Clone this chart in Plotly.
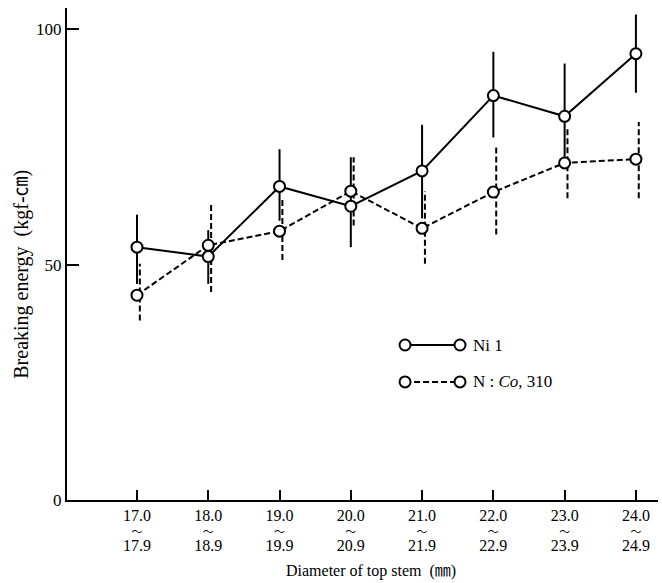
import plotly.graph_objects as go

# diameter classes of the top stem (mm)
diam_from = [17.0, 18.0, 19.0, 20.0, 21.0, 22.0, 23.0, 24.0]
diam_to = [17.9, 18.9, 19.9, 20.9, 21.9, 22.9, 23.9, 24.9]

# Ni 1 : mean breaking energy and range (kgf-cm)
ni_mean = [53.7, 51.7, 66.6, 62.4, 69.9, 85.9, 81.5, 94.8]
ni_low = [45.9, 45.9, 59.3, 53.7, 59.8, 77.0, 71.0, 86.5]
ni_high = [60.6, 57.3, 74.5, 72.8, 79.7, 95.2, 92.7, 103.1]

# N : Co, 310
nco_mean = [43.5, 54.1, 57.1, 65.6, 57.7, 65.4, 71.6, 72.4]
nco_low = [38.1, 44.2, 51.0, 58.3, 50.2, 56.4, 64.1, 64.1]
nco_high = [50.2, 63.1, 63.7, 72.8, 65.6, 74.9, 79.0, 80.3]

FONT = "Liberation Serif, Noto Sans CJK JP, serif"


def bar_xy(xs, lo, hi, shift=0.0):
    # vertical range bars as one broken line
    bx, by = [], []
    for x, a, b in zip(xs, lo, hi):
        bx += [x + shift, x + shift, None]
        by += [a, b, None]
    return bx, by


fig = go.Figure()

bx, by = bar_xy(diam_from, ni_low, ni_high)
fig.add_trace(go.Scatter(x=bx, y=by, mode="lines",
                         line=dict(color="black", width=2), showlegend=False))
bx, by = bar_xy(diam_from, nco_low, nco_high, shift=0.04)
fig.add_trace(go.Scatter(x=bx, y=by, mode="lines",
                         line=dict(color="black", width=2, dash="6px,3px"),
                         showlegend=False))

fig.add_trace(go.Scatter(x=diam_from, y=ni_mean, mode="lines",
                         line=dict(color="black", width=2), showlegend=False))
fig.add_trace(go.Scatter(x=diam_from, y=nco_mean, mode="lines",
                         line=dict(color="black", width=2, dash="6px,3px"),
                         showlegend=False))

for ys in (ni_mean, nco_mean):
    fig.add_trace(go.Scatter(x=diam_from, y=ys, mode="markers",
                             marker=dict(size=11, color="white",
                                         line=dict(color="black", width=2)),
                             showlegend=False))

ticktext = [f"<span style='font-size:16px'>{a:.1f}</span><br>"
            f"<span style='font-size:11px'>〜</span><br>"
            f"<span style='font-size:16px'>{b:.1f}</span>"
            for a, b in zip(diam_from, diam_to)]

fig.update_xaxes(range=[16.018, 24.31], tickvals=diam_from, ticktext=ticktext,
                 showline=True, linecolor="black", linewidth=2,
                 ticks="inside", ticklen=10, tickwidth=2, tickcolor="black",
                 ticklabelstandoff=5,
                 showgrid=False, zeroline=False,
                 tickfont=dict(family=FONT, size=11.6, color="black"))
fig.update_yaxes(range=[0, 104.5], tickvals=[0, 50, 100],
                 showline=True, linecolor="black", linewidth=2,
                 ticks="inside", ticklen=12, tickwidth=2, tickcolor="black",
                 showgrid=False, zeroline=False,
                 tickfont=dict(family=FONT, size=17, color="black"))

# hand-made legend like in the original figure
legend_rows = [("Ni 1", "solid", 0.315), ("N : <i>Co</i>, 310", "6px,3px", 0.240)]
for label, dash, yp in legend_rows:
    fig.add_shape(type="line", xref="paper", yref="paper", x0=0.572, x1=0.665,
                  y0=yp, y1=yp, line=dict(color="black", width=2, dash=dash))
    for xp in (0.572, 0.665):
        fig.add_shape(type="circle", xref="paper", yref="paper",
                      xsizemode="pixel", ysizemode="pixel",
                      xanchor=xp, yanchor=yp, x0=-5.5, x1=5.5, y0=-5.5, y1=5.5,
                      fillcolor="white", line=dict(color="black", width=2))
    fig.add_annotation(xref="paper", yref="paper", x=0.684, y=yp, text=label,
                       showarrow=False, xanchor="left", yanchor="middle",
                       font=dict(family=FONT, size=17, color="black"))

fig.add_annotation(xref="paper", yref="paper", x=0.514, y=-0.144,
                   text="Diameter of top stem  (㎜)", showarrow=False,
                   xanchor="center", yanchor="middle",
                   font=dict(family=FONT, size=16, color="black"))
fig.add_annotation(xref="paper", yref="paper", x=-0.076, y=0.458,
                   text="Breaking energy  (kgf-㎝)", showarrow=False,
                   textangle=-90, xanchor="center", yanchor="middle",
                   font=dict(family=FONT, size=20, color="black"))

fig.update_layout(width=662, height=583, plot_bgcolor="white",
                  paper_bgcolor="white",
                  margin=dict(l=67, r=4, t=8, b=83))

# the page's default body margin would push the figure off the window
fig.write_html("out.html", config={"displayModeBar": False},
               post_script="document.body.style.margin='0';")
